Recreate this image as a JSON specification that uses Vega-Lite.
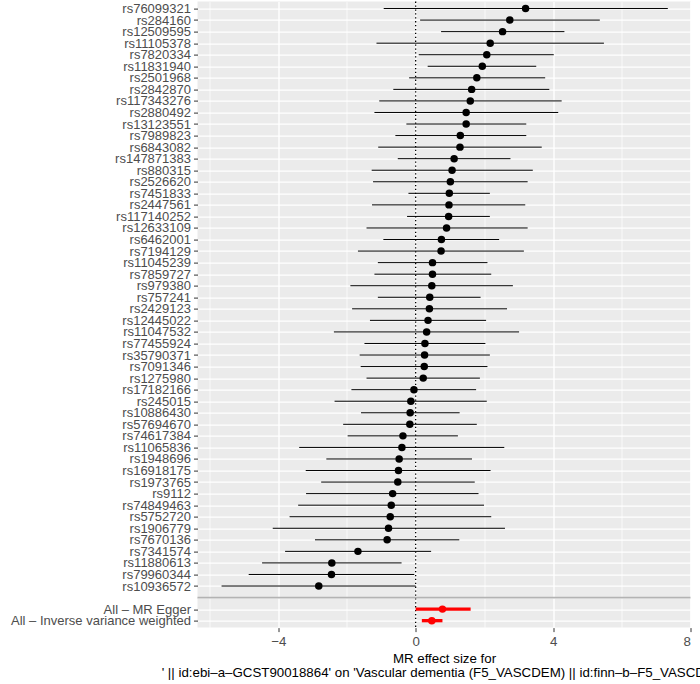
{
  "$schema": "https://vega.github.io/schema/vega-lite/v6.json",
  "autosize": {"type": "none"},
  "padding": {"left": 197.5, "top": 1.6, "right": 9.5, "bottom": 56.4},
  "width": 493,
  "height": 626,
  "background": "white",
  "datasets": {
    "mr": [
      {"SNP": "rs76099321", "b": 3.20, "lo": -0.93, "up": 7.34, "type": "SNP"},
      {"SNP": "rs284160", "b": 2.74, "lo": 0.13, "up": 5.36, "type": "SNP"},
      {"SNP": "rs12509595", "b": 2.53, "lo": 0.74, "up": 4.33, "type": "SNP"},
      {"SNP": "rs11105378", "b": 2.17, "lo": -1.14, "up": 5.48, "type": "SNP"},
      {"SNP": "rs7820334", "b": 2.07, "lo": 0.09, "up": 4.02, "type": "SNP"},
      {"SNP": "rs11831940", "b": 1.94, "lo": 0.35, "up": 3.51, "type": "SNP"},
      {"SNP": "rs2501968", "b": 1.78, "lo": -0.19, "up": 3.77, "type": "SNP"},
      {"SNP": "rs2842870", "b": 1.63, "lo": -0.65, "up": 3.89, "type": "SNP"},
      {"SNP": "rs117343276", "b": 1.59, "lo": -1.06, "up": 4.25, "type": "SNP"},
      {"SNP": "rs2880492", "b": 1.47, "lo": -1.20, "up": 4.15, "type": "SNP"},
      {"SNP": "rs13123551", "b": 1.47, "lo": -0.27, "up": 3.22, "type": "SNP"},
      {"SNP": "rs7989823", "b": 1.30, "lo": -0.59, "up": 3.22, "type": "SNP"},
      {"SNP": "rs6843082", "b": 1.29, "lo": -1.09, "up": 3.67, "type": "SNP"},
      {"SNP": "rs147871383", "b": 1.12, "lo": -0.52, "up": 2.76, "type": "SNP"},
      {"SNP": "rs880315", "b": 1.06, "lo": -1.28, "up": 3.41, "type": "SNP"},
      {"SNP": "rs2526620", "b": 1.01, "lo": -1.24, "up": 3.26, "type": "SNP"},
      {"SNP": "rs7451833", "b": 0.98, "lo": -0.21, "up": 2.16, "type": "SNP"},
      {"SNP": "rs2447561", "b": 0.97, "lo": -1.27, "up": 3.19, "type": "SNP"},
      {"SNP": "rs117140252", "b": 0.96, "lo": -0.25, "up": 2.16, "type": "SNP"},
      {"SNP": "rs12633109", "b": 0.90, "lo": -1.43, "up": 3.26, "type": "SNP"},
      {"SNP": "rs6462001", "b": 0.75, "lo": -0.94, "up": 2.43, "type": "SNP"},
      {"SNP": "rs7194129", "b": 0.74, "lo": -1.68, "up": 3.15, "type": "SNP"},
      {"SNP": "rs11045239", "b": 0.49, "lo": -1.10, "up": 2.09, "type": "SNP"},
      {"SNP": "rs7859727", "b": 0.49, "lo": -1.20, "up": 2.20, "type": "SNP"},
      {"SNP": "rs979380", "b": 0.47, "lo": -1.90, "up": 2.83, "type": "SNP"},
      {"SNP": "rs757241", "b": 0.41, "lo": -1.10, "up": 1.89, "type": "SNP"},
      {"SNP": "rs2429123", "b": 0.40, "lo": -1.85, "up": 2.66, "type": "SNP"},
      {"SNP": "rs12445022", "b": 0.36, "lo": -1.33, "up": 2.05, "type": "SNP"},
      {"SNP": "rs11047532", "b": 0.32, "lo": -2.38, "up": 3.01, "type": "SNP"},
      {"SNP": "rs77455924", "b": 0.27, "lo": -1.49, "up": 2.03, "type": "SNP"},
      {"SNP": "rs35790371", "b": 0.26, "lo": -1.63, "up": 2.16, "type": "SNP"},
      {"SNP": "rs7091346", "b": 0.25, "lo": -1.60, "up": 2.09, "type": "SNP"},
      {"SNP": "rs1275980", "b": 0.22, "lo": -1.43, "up": 1.87, "type": "SNP"},
      {"SNP": "rs17182166", "b": -0.05, "lo": -1.87, "up": 1.76, "type": "SNP"},
      {"SNP": "rs245015", "b": -0.14, "lo": -2.36, "up": 2.07, "type": "SNP"},
      {"SNP": "rs10886430", "b": -0.16, "lo": -1.59, "up": 1.28, "type": "SNP"},
      {"SNP": "rs57694670", "b": -0.17, "lo": -2.11, "up": 1.78, "type": "SNP"},
      {"SNP": "rs74617384", "b": -0.37, "lo": -1.98, "up": 1.23, "type": "SNP"},
      {"SNP": "rs11065836", "b": -0.40, "lo": -3.39, "up": 2.58, "type": "SNP"},
      {"SNP": "rs1948696", "b": -0.48, "lo": -2.60, "up": 1.64, "type": "SNP"},
      {"SNP": "rs16918175", "b": -0.50, "lo": -3.20, "up": 2.18, "type": "SNP"},
      {"SNP": "rs1973765", "b": -0.52, "lo": -2.75, "up": 1.72, "type": "SNP"},
      {"SNP": "rs9112", "b": -0.67, "lo": -3.19, "up": 1.83, "type": "SNP"},
      {"SNP": "rs74849463", "b": -0.71, "lo": -3.42, "up": 1.99, "type": "SNP"},
      {"SNP": "rs5752720", "b": -0.74, "lo": -3.67, "up": 2.20, "type": "SNP"},
      {"SNP": "rs1906779", "b": -0.79, "lo": -4.16, "up": 2.60, "type": "SNP"},
      {"SNP": "rs7670136", "b": -0.83, "lo": -2.93, "up": 1.27, "type": "SNP"},
      {"SNP": "rs7341574", "b": -1.68, "lo": -3.80, "up": 0.45, "type": "SNP"},
      {"SNP": "rs11880613", "b": -2.44, "lo": -4.47, "up": -0.41, "type": "SNP"},
      {"SNP": "rs79960344", "b": -2.45, "lo": -4.86, "up": -0.04, "type": "SNP"},
      {"SNP": "rs10936572", "b": -2.82, "lo": -5.65, "up": 0.0, "type": "SNP"},
      {"SNP": "All – MR Egger", "b": 0.78, "lo": 0.0, "up": 1.60, "type": "All"},
      {"SNP": "All – Inverse variance weighted", "b": 0.47, "lo": 0.18, "up": 0.78, "type": "All"}
    ],
    "blank": [{"SNP": ""}]
  },
  "encoding": {
    "y": {
      "field": "SNP",
      "type": "nominal",
      "title": null,
      "sort": null,
      "scale": {
        "type": "point",
        "padding": 0.6,
        "domain": [
          "rs76099321", "rs284160", "rs12509595", "rs11105378", "rs7820334", "rs11831940",
          "rs2501968", "rs2842870", "rs117343276", "rs2880492", "rs13123551", "rs7989823",
          "rs6843082", "rs147871383", "rs880315", "rs2526620", "rs7451833", "rs2447561",
          "rs117140252", "rs12633109", "rs6462001", "rs7194129", "rs11045239", "rs7859727",
          "rs979380", "rs757241", "rs2429123", "rs12445022", "rs11047532", "rs77455924",
          "rs35790371", "rs7091346", "rs1275980", "rs17182166", "rs245015", "rs10886430",
          "rs57694670", "rs74617384", "rs11065836", "rs1948696", "rs16918175", "rs1973765",
          "rs9112", "rs74849463", "rs5752720", "rs1906779", "rs7670136", "rs7341574",
          "rs11880613", "rs79960344", "rs10936572", "",
          "All – MR Egger", "All – Inverse variance weighted"
        ]
      },
      "axis": {
        "domain": false,
        "grid": true,
        "gridColor": "white",
        "gridWidth": 1.4,
        "tickColor": "#333333",
        "tickSize": 4,
        "tickOpacity": {"condition": {"test": "datum.value === ''", "value": 0}, "value": 1},
        "labelPadding": 3,
        "labelLimit": 400,
        "labelFont": "Liberation Sans",
        "labelFontSize": 13,
        "labelColor": "#4D4D4D"
      }
    }
  },
  "layer": [
    {
      "data": {"name": "blank"},
      "mark": {"type": "rule", "color": "black", "strokeWidth": 1.3, "strokeDash": [1.3, 2.6]},
      "encoding": {
        "x": {"datum": 0, "type": "quantitative"},
        "y": null
      }
    },
    {
      "data": {"name": "mr"},
      "mark": {"type": "rule"},
      "encoding": {
        "x": {
          "field": "lo",
          "type": "quantitative",
          "scale": {"domain": [-6.35, 8.0], "nice": false, "zero": false},
          "title": [
            "MR effect size for",
            "' || id:ebi–a–GCST90018864' on 'Vascular dementia (F5_VASCDEM) || id:finn–b–F5_VASCDEM'"
          ],
          "axis": {
            "values": [-6, -4, -2, 0, 2, 4, 6, 8],
            "labelExpr": "datum.value % 4 === 0 ? datum.label : ''",
            "domain": false,
            "grid": true,
            "gridColor": "white",
            "gridWidth": {"condition": {"test": "datum.value % 4 === 0", "value": 1.4}, "value": 0.7},
            "tickColor": "#333333",
            "tickSize": 4,
            "tickOpacity": {"condition": {"test": "datum.value % 4 === 0", "value": 1}, "value": 0},
            "labelPadding": 3,
            "labelFont": "Liberation Sans",
            "labelFontSize": 13.3,
            "labelColor": "#4D4D4D",
            "titleFont": "Liberation Sans",
            "titleFontSize": 13.3,
            "titleFontWeight": "normal",
            "titleColor": "black",
            "titleLineHeight": 14,
            "titlePadding": 4
          }
        },
        "x2": {"field": "up"},
        "color": {
          "field": "type",
          "type": "nominal",
          "scale": {"domain": ["SNP", "All"], "range": ["black", "red"]},
          "legend": null
        },
        "strokeWidth": {
          "field": "type",
          "type": "nominal",
          "scale": {"domain": ["SNP", "All"], "range": [1, 3.3]},
          "legend": null
        }
      }
    },
    {
      "data": {"name": "mr"},
      "mark": {"type": "circle", "size": 56, "opacity": 1},
      "encoding": {
        "x": {"field": "b", "type": "quantitative"},
        "color": {"field": "type", "type": "nominal", "legend": null}
      }
    },
    {
      "data": {"name": "blank"},
      "mark": {"type": "rule", "color": "#B3B3B3", "strokeWidth": 1.8},
      "encoding": {"y": {"field": "SNP", "type": "nominal"}}
    }
  ],
  "config": {
    "view": {"stroke": null, "fill": "#EBEBEB"}
  }
}
